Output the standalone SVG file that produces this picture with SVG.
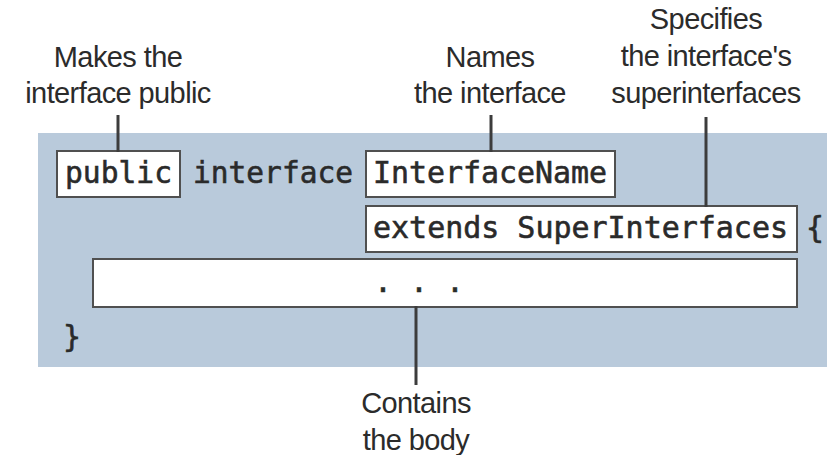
<svg xmlns="http://www.w3.org/2000/svg" width="827" height="455" viewBox="0 0 827 455">
<style>
.lbl{font-family:"Liberation Sans",Arial,sans-serif;font-size:29px;fill:#2b2b2b;text-anchor:middle;letter-spacing:-0.6px}
.code{font-family:"DejaVu Sans Mono","Liberation Mono",monospace;font-size:31px;fill:#2a2a2a;stroke:#2a2a2a;stroke-width:0.6}
.box{fill:#ffffff;stroke:#505050;stroke-width:2}
.conn{stroke:#3c3c3c;stroke-width:3;fill:none}
</style>
<rect x="0" y="0" width="827" height="455" fill="#ffffff"/>
<rect id="panel" x="38" y="133" width="789" height="234" fill="#b9cadb"/>
<g id="code">
  <text class="code" x="193" y="183" textLength="160" lengthAdjust="spacingAndGlyphs">interface</text>
  <text class="code" x="806" y="238" textLength="18" lengthAdjust="spacingAndGlyphs">{</text>
  <text class="code" x="63" y="347" textLength="18" lengthAdjust="spacingAndGlyphs">}</text>
</g>
<g id="node-public">
  <rect class="box" x="57" y="151" width="123" height="46"/>
  <text class="code" x="65" y="183" textLength="107" lengthAdjust="spacingAndGlyphs">public</text>
</g>
<g id="node-name">
  <rect class="box" x="366" y="151" width="249" height="46"/>
  <text class="code" x="373" y="183" textLength="234" lengthAdjust="spacingAndGlyphs">InterfaceName</text>
</g>
<g id="node-extends">
  <rect class="box" x="366" y="206" width="431" height="46"/>
  <text class="code" x="373" y="238" textLength="415" lengthAdjust="spacingAndGlyphs">extends SuperInterfaces</text>
</g>
<g id="node-body">
  <rect class="box" x="93" y="259" width="704" height="48"/>
  <text class="code" x="374" y="292" textLength="90" lengthAdjust="spacingAndGlyphs">. . .</text>
</g>
<g id="connectors">
  <line class="conn" x1="118" y1="115" x2="118" y2="152"/>
  <line class="conn" x1="491" y1="115" x2="491" y2="152"/>
  <line class="conn" x1="706" y1="117" x2="706" y2="207"/>
  <line class="conn" x1="416" y1="306" x2="416" y2="385"/>
</g>
<g id="label-public">
  <text class="lbl" x="118" y="67">Makes the</text>
  <text class="lbl" x="118" y="103">interface public</text>
</g>
<g id="label-name">
  <text class="lbl" x="490" y="67">Names</text>
  <text class="lbl" x="490" y="103">the interface</text>
</g>
<g id="label-extends">
  <text class="lbl" x="706" y="29">Specifies</text>
  <text class="lbl" x="706" y="66">the interface's</text>
  <text class="lbl" x="706" y="103">superinterfaces</text>
</g>
<g id="label-body">
  <text class="lbl" x="416" y="413">Contains</text>
  <text class="lbl" x="416" y="450">the body</text>
</g>
</svg>
